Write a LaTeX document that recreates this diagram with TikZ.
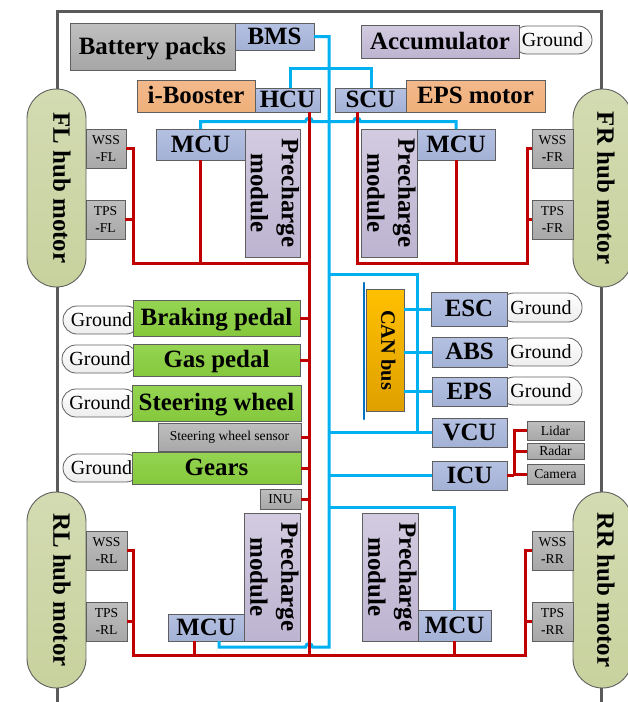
\documentclass[tikz,border=0pt]{standalone}
\usepackage{fontspec}
\setmainfont{Liberation Serif}
\definecolor{redline}{HTML}{C00000}
\definecolor{blueline}{HTML}{00B0F0}
\definecolor{canbar}{HTML}{0070C0}
\definecolor{edge}{HTML}{5F5F5F}
\definecolor{frameclr}{HTML}{5A5A5A}
\definecolor{B5C1E2}{HTML}{B5C1E2}\definecolor{A3B1D6}{HTML}{A3B1D6}
\definecolor{C0C0C0}{HTML}{C0C0C0}\definecolor{A6A6A6}{HTML}{A6A6A6}
\definecolor{D2CBE0}{HTML}{D2CBE0}\definecolor{BDB4D1}{HTML}{BDB4D1}
\definecolor{F4B98C}{HTML}{F4B98C}\definecolor{EEB07A}{HTML}{EEB07A}
\definecolor{94D452}{HTML}{94D452}\definecolor{86C83C}{HTML}{86C83C}
\definecolor{BEBEBE}{HTML}{BEBEBE}\definecolor{A8A8A8}{HTML}{A8A8A8}
\definecolor{D3DBB2}{HTML}{D3DBB2}\definecolor{C8D29E}{HTML}{C8D29E}
\definecolor{FFC000}{HTML}{FFC000}\definecolor{DFA000}{HTML}{DFA000}
\definecolor{EDEDED}{HTML}{EDEDED}
\tikzset{
  basebox/.style={draw=edge,line width=0.9pt,inner sep=0pt,outer sep=0pt,align=center},
  bigtext/.style={font=\fontsize{24.9}{31}\selectfont\bfseries},
  captext/.style={bigtext,text height=15pt,text depth=0pt},
  smalltext/.style={font=\fontsize{13.6}{17}\selectfont},
  ctrl/.style={basebox,captext,top color=B5C1E2,bottom color=A3B1D6},
  batt/.style={basebox,captext,top color=C0C0C0,bottom color=A6A6A6},
  accu/.style={basebox,captext,top color=D2CBE0,bottom color=BDB4D1},
  prebox/.style={basebox,bigtext,top color=D2CBE0,bottom color=BDB4D1},
  actuator/.style={basebox,captext,top color=F4B98C,bottom color=EEB07A},
  pedal/.style={basebox,captext,top color=94D452,bottom color=86C83C},
  sensor/.style={basebox,smalltext,top color=BEBEBE,bottom color=A8A8A8},
  hub/.style={basebox,bigtext,rounded corners=29.5pt,top color=D3DBB2,bottom color=C8D29E},
  canbox/.style={basebox,font=\fontsize{20.4}{24}\selectfont\bfseries,top color=FFC000,bottom color=DFA000},
  pill/.style={draw=edge,line width=0.8pt,inner sep=0pt,outer sep=0pt,rounded corners=14pt,top color=white,bottom color=EDEDED,font=\fontsize{20}{22}\selectfont},
  frameline/.style={draw=frameclr,line width=3pt},
  rw/.style={draw=redline,line width=3pt,line join=miter},
  bw/.style={draw=blueline,line width=3pt,line join=miter},
}
\newcommand{\bx}[7]{%
  \pgfmathsetmacro\bxcx{(#3+#5)/2}\pgfmathsetmacro\bxcy{(#4+#6)/2}%
  \pgfmathsetmacro\bxw{#5-#3}\pgfmathsetmacro\bxh{#6-#4}%
  \node[#1,minimum width=\bxw pt,minimum height=\bxh pt] (#2) at (\bxcx,\bxcy) {#7};}
\newcommand{\rot}[2]{\makebox[0pt][c]{\rotatebox[origin=c]{-90}{\raisebox{#1pt}{#2}}}}
\newcommand{\prech}{\rot{2.4}{\begin{tabular}{@{}c@{}}Precharge\\ module\end{tabular}}}
\begin{document}
\begin{tikzpicture}[x=1pt,y=-1pt]
\useasboundingbox (0,0) rectangle (627,702);
% vehicle frame
\coordinate (fbl) at (57,702); \coordinate (ftl) at (57,11);
\coordinate (ftr) at (601,11); \coordinate (fbr) at (601,702);
\draw[frameline] (fbl) -- (ftl) -- (ftr) -- (fbr);
% Ground pills (behind their boxes)
\bx{pill}{gacc}{513}{26}{592}{54}{Ground}
\bx{pill}{gbrake}{63}{306}{140}{334}{Ground}
\bx{pill}{ggas}{62}{345}{138}{373}{Ground}
\bx{pill}{gsteer}{62}{389}{138}{417}{Ground}
\bx{pill}{ggears}{63}{454}{140}{482}{Ground}
\bx{pill}{gesc}{500}{293}{582}{322}{Ground}
\bx{pill}{gabs}{500}{338}{582}{366}{Ground}
\bx{pill}{geps}{500}{377}{582}{405}{Ground}
% top row
\bx{batt}{battery}{70}{23}{235}{70}{Battery packs}
\bx{ctrl}{bms}{235}{23}{314}{50}{BMS}
\bx{accu}{accum}{361}{25}{519}{58}{Accumulator}
\bx{actuator}{ibooster}{137}{80}{255}{112}{i-Booster}
\bx{ctrl}{hcu}{255}{88}{320}{112}{HCU}
\bx{ctrl}{scu}{335}{88}{406}{112}{SCU}
\bx{actuator}{epsm}{406}{80}{545}{112}{EPS motor}
% front precharge and MCU
\bx{prebox}{prefl}{245}{129}{300}{257}{\prech}
\bx{prebox}{prefr}{361}{129}{417}{257}{\prech}
\bx{ctrl}{mcufl}{156}{129}{245}{160}{MCU}
\bx{ctrl}{mcufr}{417}{129}{495}{160}{MCU}
% hub motors
\bx{hub}{hubfl}{27}{89}{86}{287}{\rot{11}{FL hub motor}}
\bx{hub}{hubfr}{573}{89}{632}{287}{\rot{7}{FR hub motor}}
\bx{hub}{hubrl}{27}{492}{86}{688}{\rot{11}{RL hub motor}}
\bx{hub}{hubrr}{573}{492}{632}{688}{\rot{7}{RR hub motor}}
% wheel sensors
\bx{sensor}{wssfl}{86}{129}{126}{168}{WSS\\{\bfseries -}FL}
\bx{sensor}{tpsfl}{86}{200}{125}{239}{TPS\\{\bfseries -}FL}
\bx{sensor}{wssfr}{532}{129}{573}{168}{WSS\\{\bfseries -}FR}
\bx{sensor}{tpsfr}{532}{200}{573}{239}{TPS\\{\bfseries -}FR}
\bx{sensor}{wssrl}{86}{531}{127}{570}{WSS\\{\bfseries -}RL}
\bx{sensor}{tpsrl}{86}{602}{127}{641}{TPS\\{\bfseries -}RL}
\bx{sensor}{wssrr}{532}{531}{573}{570}{WSS\\{\bfseries -}RR}
\bx{sensor}{tpsrr}{532}{602}{573}{641}{TPS\\{\bfseries -}RR}
% driver inputs
\bx{pedal}{brake}{133}{300}{300}{336}{Braking pedal}
\bx{pedal}{gas}{133}{344}{300}{376}{Gas pedal}
\bx{pedal}{steer}{132}{385}{301}{421}{Steering wheel}
\bx{sensor}{swsensor}{158}{423}{301}{451}{Steering wheel sensor}
\bx{pedal}{gears}{132}{452}{301}{484}{Gears}
\bx{sensor}{inu}{260}{489}{301}{509}{INU}
% CAN section
\bx{canbox}{can}{366}{289}{404}{411}{\rot{7}{CAN bus}}
\bx{ctrl}{esc}{431}{292}{507}{326}{ESC}
\bx{ctrl}{abs}{432}{337}{507}{367}{ABS}
\bx{ctrl}{eps}{432}{377}{507}{406}{EPS}
\bx{ctrl}{vcu}{432}{418}{507}{447}{VCU}
\bx{ctrl}{icu}{432}{461}{507}{490}{ICU}
\bx{sensor}{lidar}{527}{421}{584}{440}{Lidar}
\bx{sensor}{radar}{527}{443}{584}{459}{Radar}
\bx{sensor}{camera}{527}{464}{584}{484}{Camera}
% rear precharge and MCU
\bx{prebox}{prerl}{244}{513}{300}{641}{\prech}
\bx{prebox}{prerr}{362}{513}{418}{641}{\prech}
\bx{ctrl}{mcurl}{168}{614}{244}{641}{MCU}
\bx{ctrl}{mcurr}{418}{610}{491}{641}{MCU}
% routing points
\coordinate (rbus) at (309,655);
\coordinate (rfl) at (133,263);
\coordinate (rfr) at (357,263);
\coordinate (rfrc) at (527,263);
\coordinate (rrl) at (133,655);
\coordinate (rrr) at (525,655);
\coordinate (rmrl) at (194,655);
\coordinate (rsens) at (514,475);
\coordinate (bbus) at (329,647);
\coordinate (brl) at (219,647);
\coordinate (bt1) at (290,68);
\coordinate (bt2) at (371,68);
\coordinate (bcan) at (417,274);
\coordinate (brr) at (455,507);
\coordinate (bfr) at (0,121.5);
\coordinate (cbt) at (364,283);
\coordinate (cbb) at (364,419);
% CAN bar
\draw[draw=canbar,line width=2.6pt,line cap=round] (cbt) -- (cbb);
% blue communication lines
\draw[bw] (hcu.north -| bt1) -- (bt1) -- (bt2) -- (scu.north -| bt2);
\draw[bw] (bms.east) -| (bbus) -- (312.5,647) .. controls (312,642.5) and (306,642.5) .. (305.5,647) -- (brl) -- (brl |- mcurl.south);
\draw[bw] (mcufl.north) -- (mcufl.north |- bfr) -- (305.5,121.5) .. controls (306,117) and (312,117) .. (312.5,121.5) -- (353.5,121.5) .. controls (354,117) and (360,117) .. (360.5,121.5) -- (mcufr.north |- bfr) -- (mcufr.north);
\draw[bw] (bcan -| bbus) -- (bcan) -- (bcan |- vcu.west);
\draw[bw] (vcu.west) -- (vcu.west -| bbus);
\draw[bw] (icu.west) -- (icu.west -| bbus);
\draw[bw] (brr -| bbus) -- (brr -| mcurr.north) -- (mcurr.north);
\draw[bw] (esc.west) -- (esc.west -| can.east);
\draw[bw] (abs.west) -- (abs.west -| can.east);
\draw[bw] (eps.west) -- (eps.west -| can.east);
% red power lines
\draw[rw] (rbus |- hcu.south) -- (rbus);
\draw[rw] (wssfl.east) -| (rfl) -- (rfl -| rbus);
\draw[rw] (tpsfl.east) -- (tpsfl.east -| rfl);
\draw[rw] (mcufl.south) -- (mcufl.south |- rfl);
\draw[rw] (scu.south -| rfr) -- (rfr) -- (rfrc) |- (wssfr.west);
\draw[rw] (tpsfr.west) -- (tpsfr.west -| rfrc);
\draw[rw] (mcufr.south) -- (mcufr.south |- rfr);
\foreach \n in {brake,gas,swsensor,gears,inu} \draw[rw] (\n.east) -- (\n.east -| rbus);
\draw[rw] (wssrl.east) -| (rrl) -- (rrr) |- (wssrr.west);
\draw[rw] (tpsrl.east) -- (tpsrl.east -| rrl);
\draw[rw] (tpsrr.west) -- (tpsrr.west -| rrr);
\draw[rw] (mcurl.south -| rmrl) -- (rmrl);
\draw[rw] (mcurr.south) -- (mcurr.south |- rrl);
\draw[rw] (icu.east) -- (icu.east -| rsens);
\draw[rw] (lidar.west) -| (icu.east -| rsens);
\draw[rw] (radar.west) -- (radar.west -| rsens);
\draw[rw] (camera.west) -- (camera.west -| rsens);
\end{tikzpicture}
\end{document}
